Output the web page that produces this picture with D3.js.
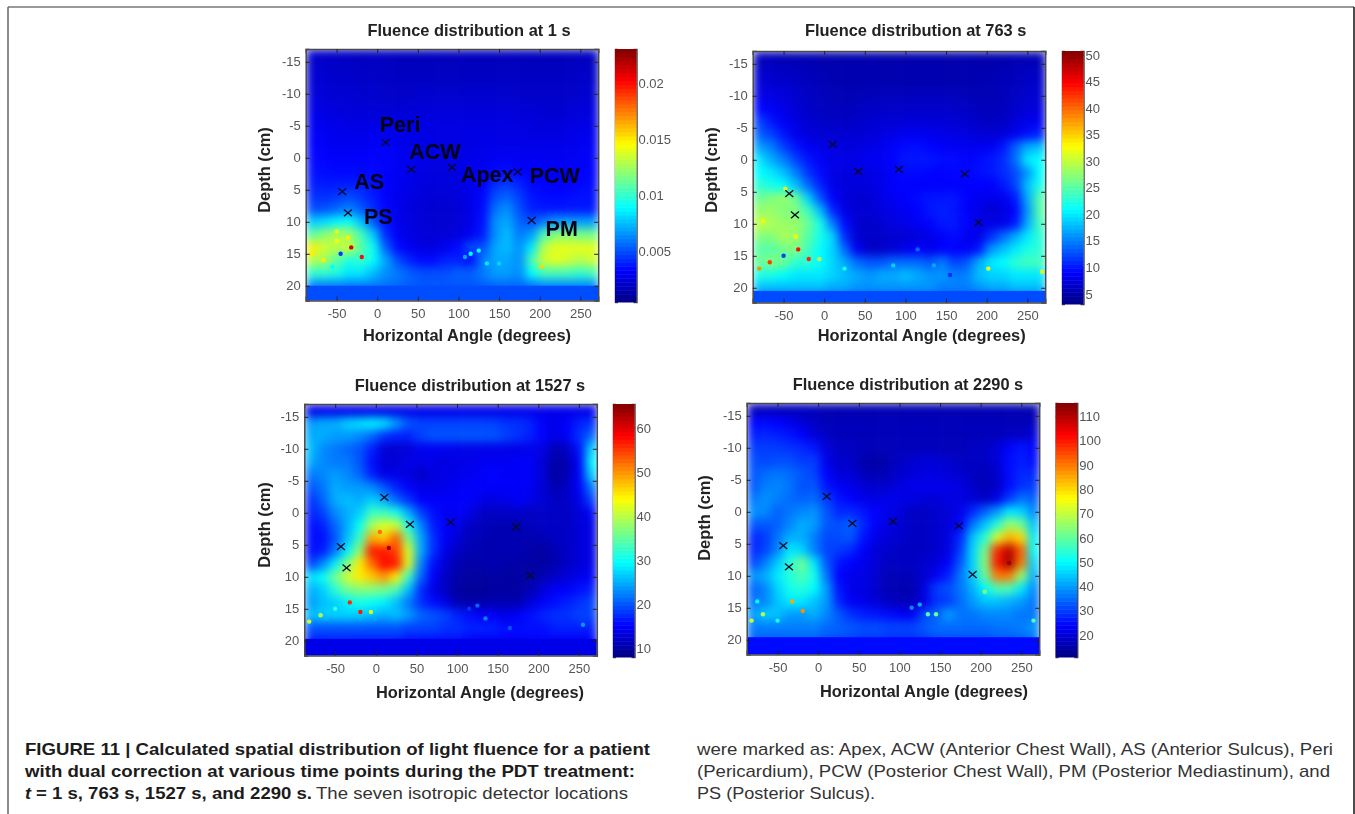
<!DOCTYPE html>
<html>
<head>
<meta charset="utf-8">
<script src="https://cdn.jsdelivr.net/npm/d3@7"></script>
<style>
  html, body { margin: 0; padding: 0; background: #fff; }
  svg { display: block; font-family: "Liberation Sans", Arial, sans-serif; }
</style>
</head>
<body>
<div id="chart"></div>
<script>
// grid centres shared by all four maps
const angles = [-80, -65, -50, -35, -20, -5, 10, 25, 40, 55, 70, 85, 100, 115, 130, 145, 160, 175, 190, 205, 220, 235, 250, 265];
const depths = [-16, -14, -12, -10, -8, -6, -4, -2, 0, 2, 4, 6, 8, 10, 12, 14, 16, 18, 20, 22];

// fluence, one row per depth (first map in thousandths)
const fluence1s = [
  [2.1,2.1,2.0,2.0,1.9,1.9,1.9,1.8,1.8,1.8,1.8,1.8,1.8,1.8,1.8,1.8,1.8,1.8,1.8,1.8,1.8,1.8,1.9,1.9],
  [2.2,2.2,2.1,2.1,2.0,2.0,2.0,1.9,1.9,1.9,1.9,1.9,1.9,1.9,1.9,1.9,1.9,1.9,1.9,1.9,1.9,1.9,2.0,2.0],
  [2.3,2.3,2.2,2.2,2.1,2.1,2.0,2.0,2.0,2.0,2.0,2.0,2.0,2.0,2.0,2.0,2.0,2.0,2.0,2.0,2.0,2.0,2.1,2.1],
  [2.5,2.4,2.3,2.3,2.2,2.2,2.1,2.1,2.1,2.2,2.2,2.2,2.2,2.2,2.2,2.2,2.2,2.1,2.1,2.1,2.1,2.1,2.2,2.3],
  [2.7,2.6,2.5,2.4,2.4,2.3,2.3,2.3,2.3,2.4,2.4,2.4,2.4,2.4,2.4,2.4,2.4,2.3,2.3,2.2,2.2,2.3,2.4,2.5],
  [2.9,2.8,2.7,2.6,2.6,2.6,2.6,2.6,2.6,2.6,2.6,2.6,2.6,2.6,2.6,2.6,2.6,2.5,2.5,2.4,2.4,2.5,2.6,2.7],
  [3.1,3.0,2.9,2.8,2.8,2.9,2.9,2.8,2.7,2.7,2.7,2.7,2.7,2.7,2.7,2.7,2.7,2.7,2.6,2.6,2.6,2.7,2.8,2.9],
  [3.3,3.2,3.0,3.0,3.0,3.1,3.1,3.0,2.8,2.8,2.7,2.7,2.7,2.7,2.8,2.8,2.8,2.8,2.8,2.8,2.8,2.8,3.0,3.1],
  [3.4,3.3,3.2,3.2,3.2,3.3,3.2,3.0,2.9,2.8,2.7,2.7,2.7,2.8,2.9,3.0,3.0,3.0,3.0,3.0,3.0,3.0,3.1,3.2],
  [3.6,3.5,3.4,3.4,3.4,3.4,3.2,3.0,2.9,2.7,2.6,2.6,2.7,2.9,3.1,3.4,3.5,3.3,3.2,3.1,3.1,3.2,3.3,3.3],
  [3.9,3.8,3.8,3.9,3.8,3.6,3.2,3.0,2.8,2.6,2.5,2.5,2.6,2.9,3.3,4.2,4.5,4.0,3.4,3.3,3.3,3.3,3.4,3.5],
  [4.3,4.3,4.5,4.9,4.5,3.9,3.3,2.9,2.7,2.5,2.4,2.4,2.5,2.8,3.4,5.0,5.5,4.6,3.7,3.5,3.4,3.5,3.6,3.6],
  [5.0,5.1,5.6,6.2,5.3,4.2,3.4,2.9,2.6,2.4,2.3,2.3,2.4,2.8,3.5,5.8,6.5,5.0,4.0,3.8,3.8,3.8,3.8,3.8],
  [7.8,8.2,8.8,9.2,7.6,5.2,3.6,2.9,2.6,2.4,2.3,2.3,2.4,2.8,3.6,6.5,7.0,5.5,5.0,6.0,6.8,6.8,6.8,6.8],
  [11.0,12.0,13.0,12.5,10.5,7.8,4.2,3.1,2.7,2.5,2.4,2.4,2.6,3.0,3.9,6.5,7.5,6.0,6.8,10.5,12.0,12.0,11.5,11.5],
  [15.0,13.5,13.0,13.5,11.0,9.2,5.5,3.5,3.0,2.6,2.6,3.0,3.5,5.0,5.0,7.0,7.5,6.5,8.5,13.0,14.0,14.0,14.0,14.0],
  [13.0,12.5,11.0,9.5,10.0,9.0,7.0,5.0,4.0,3.5,3.5,4.0,4.0,3.5,6.0,7.0,7.0,6.5,10.5,13.5,14.0,13.5,13.0,13.5],
  [10.0,10.0,9.5,8.5,8.5,7.5,6.5,6.0,5.4,5.0,5.0,5.0,5.4,5.4,6.0,6.8,6.8,6.4,9.0,10.5,10.5,10.5,10.0,10.5],
  [6.2,6.2,6.2,6.1,6.1,6.0,5.8,5.6,5.4,5.2,5.2,5.2,5.2,5.2,5.4,5.6,5.6,5.6,6.0,6.4,6.4,6.4,6.4,6.4],
  [4.3,4.3,4.3,4.3,4.2,4.2,4.2,4.2,4.2,4.1,4.1,4.1,4.1,4.1,4.2,4.2,4.2,4.2,4.2,4.3,4.3,4.3,4.3,4.3]
];
const fluence763s = [
  [5.8,5.8,5.6,5.5,5.4,5.3,5.2,5.2,5.2,5.2,5.2,5.2,5.2,5.2,5.2,5.2,5.2,5.2,5.2,5.2,5.3,5.4,5.5,5.6],
  [6.5,6.4,6.2,6.0,5.8,5.6,5.4,5.3,5.3,5.3,5.3,5.3,5.3,5.3,5.3,5.3,5.3,5.3,5.3,5.4,5.6,5.8,6.0,6.2],
  [7.2,7.0,6.8,6.4,6.0,5.8,5.5,5.4,5.4,5.4,5.4,5.4,5.4,5.4,5.4,5.4,5.4,5.4,5.5,5.6,5.8,6.0,6.4,6.6],
  [8.0,7.8,7.4,6.8,6.4,6.0,5.7,5.6,5.6,5.8,5.9,6.0,6.0,6.0,6.0,6.0,6.0,5.8,5.6,5.6,5.8,6.2,6.8,7.0],
  [9.2,8.6,8.0,7.2,6.6,6.2,6.0,6.0,6.2,6.4,6.5,6.6,6.6,6.6,6.6,6.6,6.5,6.3,6.0,5.8,6.0,6.6,7.2,7.6],
  [12.0,10.0,8.5,7.6,7.0,6.5,6.4,6.4,6.5,6.8,7.0,7.0,7.2,7.2,7.2,7.2,7.0,6.8,6.5,6.2,6.4,7.2,8.0,8.4],
  [13.5,12.0,10.0,8.2,7.4,7.0,7.0,7.0,7.0,7.2,7.6,8.0,8.4,8.4,8.2,8.0,7.8,7.5,7.2,7.0,7.4,8.2,9.6,10.5],
  [16.5,15.0,12.0,10.0,8.6,8.0,7.6,7.5,7.6,7.8,8.2,8.8,9.5,9.6,9.2,8.8,8.6,8.4,8.4,8.6,10.0,13.5,17.0,18.0],
  [20.0,17.0,15.0,12.0,10.0,8.6,8.0,8.0,8.0,8.5,8.5,9.0,10.0,10.0,10.0,9.5,9.5,9.0,9.5,10.0,11.0,14.0,20.0,21.0],
  [21.0,20.0,18.0,15.0,11.5,9.5,8.0,7.5,7.5,7.8,8.2,8.8,9.4,9.4,9.2,9.0,9.2,9.2,9.6,10.0,11.0,12.5,16.0,21.0],
  [23.0,22.0,21.0,18.0,14.0,10.5,8.0,7.5,7.5,7.5,8.0,9.0,9.0,9.0,9.0,9.0,9.0,9.0,9.0,9.0,10.0,12.0,18.0,22.0],
  [26.0,27.0,28.0,26.0,19.0,13.0,9.0,7.5,7.0,7.0,8.0,8.5,9.0,9.5,10.0,10.0,10.0,9.0,8.5,8.0,8.5,10.0,17.0,25.0],
  [28.0,28.0,27.0,27.0,24.0,18.0,11.0,8.0,7.0,7.0,7.5,8.0,8.5,9.0,10.0,10.5,10.0,9.0,8.0,7.0,7.5,9.0,16.0,25.0],
  [30.0,29.0,28.0,28.0,26.0,22.0,15.0,9.5,7.0,6.5,7.0,7.5,8.0,8.5,9.0,10.0,10.0,9.0,8.0,8.0,8.0,10.0,17.0,24.0],
  [27.0,27.0,29.0,28.0,25.0,22.0,19.0,11.0,7.0,6.5,6.5,7.0,7.0,7.5,8.0,9.0,9.5,8.5,8.0,11.0,14.0,17.0,20.0,23.0],
  [25.0,25.0,26.0,27.0,24.0,21.0,19.0,14.0,8.5,6.5,6.5,7.0,8.0,9.0,8.0,9.0,9.0,8.5,10.0,16.0,18.0,20.0,22.0,23.0],
  [26.0,27.0,26.0,23.0,23.0,21.0,19.0,17.0,14.0,13.0,13.0,14.0,14.0,14.0,13.0,15.0,12.0,13.0,17.0,20.0,21.0,23.0,24.0,24.0],
  [22.0,22.0,21.0,20.0,20.0,20.0,19.0,18.0,17.0,16.0,17.0,17.0,18.0,17.0,16.0,16.0,15.0,15.0,18.0,19.0,19.0,20.0,20.0,20.0],
  [18.0,18.0,18.0,18.0,18.0,18.0,17.0,17.0,16.0,16.0,16.0,16.0,16.0,16.0,16.0,15.0,15.0,15.0,16.0,17.0,17.0,18.0,18.0,18.0],
  [12.0,12.0,12.0,12.0,12.0,12.0,12.0,12.0,12.0,12.0,12.0,12.0,12.0,12.0,12.0,12.0,12.0,12.0,12.0,12.0,12.0,12.0,12.0,12.0]
];
const fluence1527s = [
  [14,14,14,14,14,14,14,14,14,14,14,14,14,14,14,14,14,14,14,14,14,14,14,14],
  [24,25,25,27,28,29,28,24,20,19,19,19,19,19,19,19,18,18,17,15,14,15,17,18],
  [25,25,24,24,23,21,18,17,17,19,20,20,20,20,20,20,19,18,17,15,14,15,18,21],
  [26,23,22,21,20,17,13,12.5,13,14.5,14.5,14.5,14,14,14,14,14,14,14,14,11,12,16,27],
  [25,23,22,22,20,16,13,13,14,14,14,13.5,14,14,14.5,14.5,14.5,15,15,13,10.5,11,15,29],
  [22,23,24,23,21,17,14,14,13.5,12,13.5,14,14,14.5,15,15.5,15,15,15,13,10,11,15,27],
  [20,22,25,24,24,23,20,17,15,14,14,14,15,15,15,15,15,15,14.5,13,11,12,15,22],
  [18,21,25,26,25,27,25,21,18,15,15,15,15,15,14,13.5,14,15,14,13,12,12,14,19],
  [17,19,23,25,27,33,33,31,25,19,16,14.5,15,14,12,12,12,12,12,12,12,12,13,15],
  [16,17,21,25,30,39,42,41,31,23,17,15,14,12,11.5,11,11,11,11.5,12,12,12,13,14],
  [16,16,20,26,33,49,47,53,37,25,18,15,13,11.5,11,11,11,11,11,11,12,12,13,14],
  [16,17,22,29,38,57,57,55,42,25,18,14,12,11,11,11,11,11,10.5,10,11,12,13,14],
  [19,23,29,37,45,52,58,57,42,23,16,13,11,10.5,10.5,11,10.5,10.5,10,10,11,12,13,14],
  [28,30,36,41,45,47,50,45,33,21,15,12,10.5,10,10,10,10,10,10,11,12,13,14,15],
  [25,27,32,36,37,37,36,34,26,18,14,12,10,9.5,9.5,10,10,10,11,13,15,15,16,17],
  [24,26,27,29,31,30,29,26,22,18,16,14,11,10.5,10.5,11,11,11,13,15,16,17,18,19],
  [26,27,27,27,27,26,25,26,24,21,20,19,17,16,15,15,14,15,16,17,18,18,19,19],
  [20,20,20,20,20,20,20,20,19,19,19,18,18,17,17,17,16,16,16,16,17,17,17,17],
  [17,17,17,17,17,17,17,17,16,16,16,16,16,15,15,15,15,15,15,15,15,15,15,15],
  [13,13,13,13,13,13,13,13,13,13,13,13,13,13,13,13,13,13,13,13,13,13,13,13]
];
const fluence2290s = [
  [17,17,17,17,17,17,16,16,16,16,16,16,16,16,16,16,16,16,16,16,16,16,16,16],
  [24,25,24,22,20,18,17,17,17,17,17,17,17,17,17,17,17,17,17,17,17,17,17,17],
  [27,28,27,26,24,20,18,17,17,17,17,17,17,17,17,17,17,17,17,17,17,18,18,20],
  [30,30,30,29,28,26,20,18,18,17,17,17,17,17,17,17,17,17,18,18,20,24,26,24],
  [32,31,32,32,30,30,22,19,18,16,15,16,18,19,20,20,19,18,18,18,20,25,27,25],
  [33,35,36,35,33,31,24,20,20,17,16,17,19,20,21,21,20,19,18,17,19,25,28,28],
  [33,37,38,36,32,33,26,23,22,20,19,19,21,22,22,22,22,21,19,17,18,25,29,30],
  [36,39,37,35,34,35,30,26,24,22,21,22,22,21,20,20,21,21,20,18,22,30,36,34],
  [39,38,34,36,38,39,33,28,28,26,24,22,20,18,18,19,20,22,28,34,40,48,46,38],
  [33,33,34,38,42,40,33,32,34,28,24,21,20,18,18,19,20,24,36,44,54,66,62,44],
  [28,30,36,42,42,37,31,32,33,26,22,20,19,18,18,19,21,28,44,54,72,84,80,48],
  [28,31,38,48,46,37,31,30,28,24,20,19,18,18,18,19,21,30,46,62,98,110,92,50],
  [31,37,45,54,62,48,33,26,24,22,20,18,18,18,19,20,24,33,46,64,100,112,90,46],
  [39,42,48,54,58,52,36,24,22,22,19,17,17,17,19,23,27,36,45,60,90,90,66,42],
  [34,38,46,52,54,50,40,26,22,21,19,17,16,16,21,30,32,36,42,50,58,58,48,38],
  [36,38,44,48,48,44,40,28,23,22,20,18,17,17,21,29,30,35,40,44,44,42,40,36],
  [40,45,44,40,40,42,38,33,29,27,26,25,23,23,31,34,40,36,36,38,38,38,36,36],
  [37,37,37,37,37,37,35,34,33,32,32,31,31,31,33,35,35,35,35,35,36,36,37,39],
  [34,34,34,34,34,34,32,32,31,30,30,29,29,29,30,32,32,32,32,32,33,33,34,36],
  [24,24,24,24,24,24,24,24,24,24,24,24,24,24,24,24,24,24,24,24,24,24,24,24]
];

// flat band along the bottom of each map: where it starts and its value
const bandDepths = [20, 20.5, 19.7, 19.6];
const bandValues = [5, 12.5, 14, 25];

// isolated hot cells: [angle, depth, value]
const specks1s = [[-32,14,21],[-19,15.5,20],[-50,13,14.5],[-36,12.5,15],[-80,15,15],[-66,16,15],[-50,11.5,14],[202,17,15.5],[115,15,9],[125,14.5,9],[135,16.5,8.5],[108,15.5,7],[-45,15,4.5],[-10,15.5,10],[-55,17,9],[150,16.5,8]];
const specks763s = [[-32,14,44],[-19,15.5,43],[-67,16,42],[-80,17,38],[-48,4.5,32],[-75,9.5,33],[-35,12,33],[202,17,32],[268,17.5,31],[-6,15.5,30],[115,14,14],[135,16.5,17],[-50,15,12],[25,17,22],[85,16.5,19],[155,18,11]];
const specks1527s = [[-32,14,56],[-19,15.5,57],[-6,15.5,42],[-68,16,40],[-82,17,42],[16,5.5,64],[5,3,52],[115,15,18],[125,14.5,21],[135,16.5,23],[165,18,20],[255,17.5,24],[-50,15,32]];
const specks2290s = [[-32,14,85],[-19,15.5,88],[-68,16,68],[-82,17,72],[235,8,112],[145,16,62],[135,16,58],[115,15,38],[125,14.5,42],[205,12.5,64],[-50,17,52],[-75,14,50],[265,17,58]];

// detector positions
const detectorNames = ["Peri", "ACW", "Apex", "PCW", "PM", "AS", "PS"];
const detectorAngles = [10.5, 42, 92, 173, 190, -43, -36];
const detectorDepths = [-2.4, 1.8, 1.5, 2.2, 9.8, 5.3, 8.6];

// axis and colour bar labels
const angleTicks = [-50, 0, 50, 100, 150, 200, 250];
const depthTicks = [-15, -10, -5, 0, 5, 10, 15, 20];
const barTicks1s = [0.005, 0.01, 0.015, 0.02];
const barTicks763s = [5, 10, 15, 20, 25, 30, 35, 40, 45, 50];
const barTicks1527s = [10, 20, 30, 40, 50, 60];
const barTicks2290s = [20, 30, 40, 50, 60, 70, 80, 90, 100, 110];
const panelTitles = ["Fluence distribution at 1 s", "Fluence distribution at 763 s", "Fluence distribution at 1527 s", "Fluence distribution at 2290 s"];

const width = 1355, height = 814;
const svg = d3.select("#chart").append("svg").attr("width", width).attr("height", height);
const defs = svg.append("defs");

const heatBlur = defs.append("filter").attr("id", "heatBlur")
    .attr("x", 0).attr("y", 0).attr("width", 1).attr("height", 1)
    .attr("color-interpolation-filters", "sRGB");
heatBlur.append("feGaussianBlur").attr("stdDeviation", 5).attr("edgeMode", "duplicate");
defs.append("filter").attr("id", "speckBlur")
    .attr("color-interpolation-filters", "sRGB")
    .append("feGaussianBlur").attr("stdDeviation", 0.6);
defs.append("filter").attr("id", "textBlur")
    .append("feGaussianBlur").attr("stdDeviation", 0.3);

// matlab jet
const jet = d3.scaleLinear()
    .domain([0, 0.125, 0.375, 0.625, 0.875, 1])
    .range(["#000080", "#0000ff", "#00ffff", "#ffff00", "#ff0000", "#800000"])
    .clamp(true);

// page frame
const frameLines = [[8, 7, 1354, 7, "#777"], [8, 7, 8, 814, "#666"], [1354, 7, 1354, 814, "#111"]];
svg.selectAll(".frame").data(frameLines).enter().append("line")
    .attr("class", "frame")
    .attr("x1", d => d[0]).attr("y1", d => d[1])
    .attr("x2", d => d[2]).attr("y2", d => d[3])
    .attr("stroke", d => d[4])
    .attr("stroke-width", 1.5);

const labelOffsets = {Peri: [-6, -10], ACW: [-2, -10], Apex: [9, 15], PCW: [12, 11], PM: [14, 15], AS: [12, -3], PS: [16, 11]};

function drawPanel(p, index) {
    const x = d3.scaleLinear().domain([-88, 272]).range([p.left, p.left + 292.5]);
    const y = d3.scaleLinear().domain([-17, 22.3]).range([p.top, p.top + 251.5]);
    const color = v => jet((v - p.min) / (p.max - p.min));
    const g = svg.append("g");

    defs.append("clipPath").attr("id", "plotClip" + index).append("rect")
        .attr("x", x.range()[0]).attr("y", y.range()[0])
        .attr("width", 292.5).attr("height", 251.5);

    const cells = [];
    p.values.forEach((row, r) => row.forEach((v, c) => cells.push({angle: angles[c], depth: depths[r], v: v * p.unit})));

    const plot = g.append("g").attr("clip-path", `url(#plotClip${index})`);
    plot.append("g").attr("filter", "url(#heatBlur)")
        .selectAll("rect").data(cells).enter().append("rect")
        .attr("x", d => x(d.angle - 7.5))
        .attr("y", d => y(d.depth - 1))
        .attr("width", x(7.5) - x(-7.5) + 0.5)
        .attr("height", y(1) - y(-1) + 0.5)
        .attr("fill", d => color(d.v));

    plot.append("rect")
        .attr("x", x.range()[0])
        .attr("y", y(bandDepths[index]))
        .attr("width", 292.5)
        .attr("height", y.range()[1] - y(bandDepths[index]))
        .attr("fill", color(bandValues[index] * p.unit));

    plot.append("g").attr("filter", "url(#speckBlur)")
        .selectAll("circle").data(p.specks).enter().append("circle")
        .attr("cx", d => x(d[0]))
        .attr("cy", d => y(d[1]))
        .attr("r", 2.2)
        .attr("fill", d => color(d[2] * p.unit));

    // detector crosses
    const marks = detectorNames.map((name, i) => ({name: name, px: x(detectorAngles[i]), py: y(detectorDepths[i])}));
    g.append("g").selectAll("path").data(marks).enter().append("path")
        .attr("d", d => `M${d.px - 4},${d.py - 3.4}L${d.px + 4},${d.py + 3.4}M${d.px - 4},${d.py + 3.4}L${d.px + 4},${d.py - 3.4}`)
        .attr("stroke", "#0a0a28")
        .attr("stroke-width", 1.3)
        .attr("fill", "none");

    if (p.labelled) {
        g.append("g").attr("filter", "url(#textBlur)")
            .selectAll("text").data(marks).enter().append("text")
            .attr("x", d => d.px + labelOffsets[d.name][0])
            .attr("y", d => d.py + labelOffsets[d.name][1])
            .attr("font-size", 21.5)
            .attr("font-weight", "bold")
            .attr("fill", "#050518")
            .text(d => d.name);
    }

    // axes, ticks point inward on all four sides like matlab
    const hyphen = d => String(d);
    const axes = g.append("g");
    const bottom = d3.axisBottom(x).tickValues(angleTicks).tickSize(-4).tickPadding(8).tickFormat(hyphen);
    const left = d3.axisLeft(y).tickValues(depthTicks).tickSize(-4).tickPadding(5).tickFormat(hyphen);
    axes.append("g").attr("transform", `translate(0,${y.range()[1]})`).call(bottom);
    axes.append("g").attr("transform", `translate(${x.range()[0]},0)`).call(left);
    axes.append("g").attr("transform", `translate(0,${y.range()[0]})`)
        .call(d3.axisTop(x).tickValues(angleTicks).tickSize(-4).tickFormat(""));
    axes.append("g").attr("transform", `translate(${x.range()[1]},0)`)
        .call(d3.axisRight(y).tickValues(depthTicks).tickSize(-4).tickFormat(""));

    // colour bar
    const barY = d3.scaleLinear().domain([p.min, p.max]).range([p.barBottom, p.top]);
    const levels = d3.range(64).map(i => p.min + (p.max - p.min) * i / 64);
    const step = (p.max - p.min) / 64;
    g.append("g").selectAll("rect").data(levels).enter().append("rect")
        .attr("x", p.barLeft)
        .attr("y", d => barY(d + step))
        .attr("width", 21.5)
        .attr("height", d => barY(d) - barY(d + step) + 0.5)
        .attr("fill", d => color(d + step / 2));
    const barAxis = d3.axisRight(barY).tickValues(p.barTicks).tickSize(-3).tickPadding(p.barPad).tickFormat(hyphen);
    axes.append("g").attr("transform", `translate(${p.barLeft + 21.5},0)`).call(barAxis);
    axes.append("g").attr("transform", `translate(${p.barLeft},0)`)
        .call(d3.axisLeft(barY).tickValues(p.barTicks).tickSize(-3).tickFormat(""));

    axes.selectAll(".domain").attr("stroke", "#4a4a4a").attr("stroke-width", 1.5);
    axes.selectAll(".tick line").attr("stroke", "#222");
    axes.selectAll(".tick text").attr("font-size", 13).attr("fill", "#555")
        .attr("font-family", "Liberation Sans").attr("filter", "url(#textBlur)");

    // titles
    const labels = g.append("g").attr("filter", "url(#textBlur)").attr("font-weight", "bold")
        .attr("text-anchor", "middle").attr("fill", "#222");
    labels.append("text").attr("x", p.titleX).attr("y", p.titleY).attr("font-size", 16.4).text(panelTitles[index]);
    labels.append("text").attr("x", p.xLabelX).attr("y", p.xLabelY).attr("font-size", 16.4).text("Horizontal Angle (degrees)");
    labels.append("text").attr("font-size", 16.4)
        .attr("transform", `translate(${p.yLabelX},${p.yLabelY}) rotate(-90)`)
        .text("Depth (cm)");
}

const panels = [
    {values: fluence1s, unit: 0.001, specks: specks1s, min: 0.00047, max: 0.0231, barTicks: barTicks1s, labelled: true,
     left: 305.7, top: 49, barLeft: 615, barBottom: 302, barPad: 2,
     titleX: 469, titleY: 36, xLabelX: 467, xLabelY: 341, yLabelX: 270, yLabelY: 170},
    {values: fluence763s, unit: 1, specks: specks763s, min: 3.1, max: 50.75, barTicks: barTicks763s,
     left: 752.7, top: 51, barLeft: 1062, barBottom: 304, barPad: 2,
     titleX: 915.7, titleY: 36, xLabelX: 921.7, xLabelY: 341, yLabelX: 717, yLabelY: 170},
    {values: fluence1527s, unit: 1, specks: specks1527s, min: 8.1, max: 65.5, barTicks: barTicks1527s,
     left: 304.3, top: 404, barLeft: 613, barBottom: 657, barPad: 2,
     titleX: 470, titleY: 391, xLabelX: 480, xLabelY: 697.5, yLabelX: 270, yLabelY: 525},
    {values: fluence2290s, unit: 1, specks: specks2290s, min: 11, max: 115.5, barTicks: barTicks2290s,
     left: 746.7, top: 403, barLeft: 1055.7, barBottom: 657, barPad: 2,
     titleX: 908, titleY: 390, xLabelX: 924, xLabelY: 696.5, yLabelX: 710, yLabelY: 518}
];
panels.forEach(drawPanel);

// caption, each line fitted to its width in the reference
const captionLines = [
    {text: "FIGURE 11 | Calculated spatial distribution of light fluence for a patient", x: 25, y: 755, w: 625, bold: true},
    {text: "with dual correction at various time points during the PDT treatment:", x: 25, y: 777, w: 610, bold: true},
    {text: "t", x: 25, y: 799, w: 6, bold: true, italic: true},
    {text: "= 1 s, 763 s, 1527 s, and 2290 s.", x: 36, y: 799, w: 276, bold: true},
    {text: "The seven isotropic detector locations", x: 316, y: 799, w: 312},
    {text: "were marked as: Apex, ACW (Anterior Chest Wall), AS (Anterior Sulcus), Peri", x: 697, y: 755, w: 636},
    {text: "(Pericardium), PCW (Posterior Chest Wall), PM (Posterior Mediastinum), and", x: 697, y: 777, w: 633},
    {text: "PS (Posterior Sulcus).", x: 697, y: 799, w: 178}
];
svg.append("g").selectAll("text").data(captionLines).enter().append("text")
    .attr("x", d => d.x)
    .attr("y", d => d.y)
    .attr("textLength", d => d.w)
    .attr("lengthAdjust", "spacingAndGlyphs")
    .attr("font-size", 17)
    .attr("font-weight", d => d.bold ? "bold" : "normal")
    .attr("font-style", d => d.italic ? "italic" : "normal")
    .attr("fill", d => d.bold ? "#1c1c1c" : "#333")
    .text(d => d.text);
</script>
</body>
</html>
